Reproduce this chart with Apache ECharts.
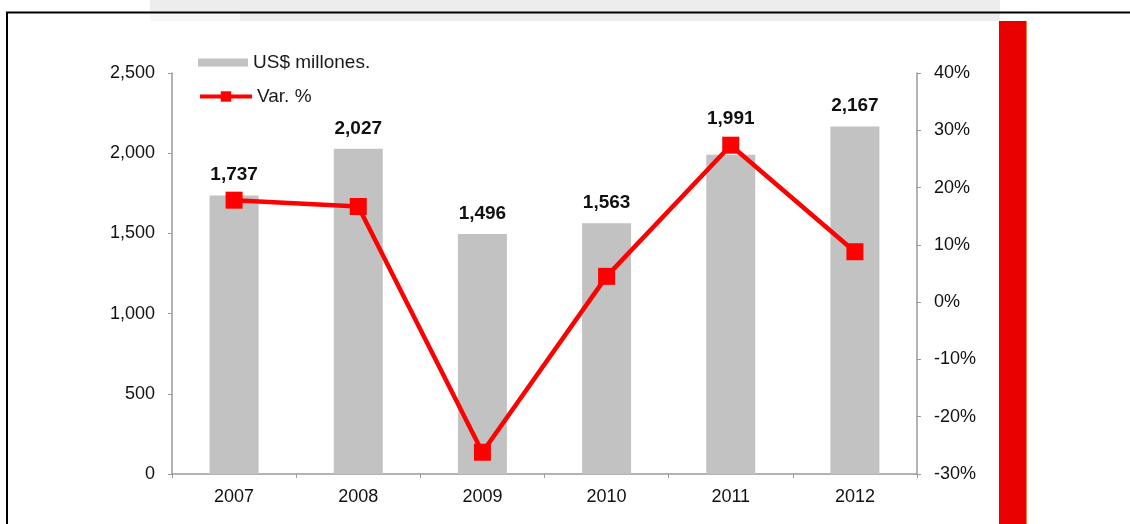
<!DOCTYPE html>
<html>
<head>
<meta charset="utf-8">
<script src="https://cdn.jsdelivr.net/npm/echarts@6/dist/echarts.min.js"></script>
<style>
  html, body { margin: 0; padding: 0; background: #fff; }
  #chart { width: 1130px; height: 524px; }
</style>
</head>
<body>
<div id="chart"></div>
<script>
// Years on the category axis
const years = ['2007', '2008', '2009', '2010', '2011', '2012'];
// Annual amount, US$ millions (bars, left axis)
const amounts = [1737, 2027, 1496, 1563, 1991, 2167];
// Year-on-year change, % (line, right axis)
const changePct = [17.8, 16.7, -26.2, 4.5, 27.4, 8.8];
// Series names shown in the legend
const barName = 'US$ millones.';
const lineName = 'Var. %';

const FONT = '"Liberation Sans", Arial, sans-serif';
const axisGray = '#9a9a9a';

// The 2011 value label sits above the line marker so both stay readable
const barData = amounts.map((v, i) =>
  years[i] === '2011' ? { value: v, label: { distance: 26 } } : v);

const chart = echarts.init(document.getElementById('chart'), null, { renderer: 'canvas' });

chart.setOption({
  backgroundColor: '#ffffff',
  animation: false,
  textStyle: { fontFamily: FONT },
  graphic: [
    // faint band along the top edge
    { type: 'rect', z: 0, shape: { x: 150, y: 0, width: 850, height: 21 }, style: { fill: '#ededed' } },
    { type: 'rect', z: 0, shape: { x: 150, y: 13, width: 90, height: 8 }, style: { fill: '#f7f7f7' } },
    // frame lines on top and left
    { type: 'polyline', z: 10, shape: { points: [[7, 524], [7, 12.5], [1130, 12.5]] },
      style: { stroke: '#000', lineWidth: 2, fill: null } },
    // red vertical band on the right
    { type: 'rect', z: 10, shape: { x: 999, y: 21, width: 27, height: 503 }, style: { fill: '#e80000' } },
    { type: 'rect', z: 10, shape: { x: 1026, y: 21, width: 1, height: 503 }, style: { fill: '#f08050' } }
  ],
  legend: [
    {
      data: [barName],
      left: 193, top: 48,
      itemWidth: 50, itemHeight: 8,
      icon: 'rect',
      textStyle: { fontFamily: FONT, fontSize: 19, color: '#1a1a1a' }
    },
    {
      data: [lineName],
      left: 193, top: 82,
      itemWidth: 52, itemHeight: 13,
      lineStyle: { width: 4 },
      textStyle: { fontFamily: FONT, fontSize: 19, color: '#1a1a1a' }
    }
  ],
  grid: { left: 172, right: 213, top: 73, bottom: 50, containLabel: false },
  xAxis: {
    type: 'category',
    data: years,
    axisLine: { lineStyle: { color: axisGray, width: 1.5 } },
    axisTick: { show: true, length: 4, lineStyle: { color: axisGray } },
    axisLabel: { fontFamily: FONT, fontSize: 18, color: '#111', margin: 14 }
  },
  yAxis: [
    {
      type: 'value', min: 0, max: 2500, interval: 500,
      axisLine: { show: true, lineStyle: { color: axisGray, width: 1.5 } },
      axisTick: { show: true, length: 4, lineStyle: { color: axisGray } },
      splitLine: { show: false },
      axisLabel: {
        fontFamily: FONT, fontSize: 18, color: '#111', margin: 17,
        formatter: v => v.toLocaleString('en-US')
      }
    },
    {
      type: 'value', min: -30, max: 40, interval: 10,
      position: 'right',
      axisLine: { show: true, lineStyle: { color: axisGray, width: 1.5 } },
      axisTick: { show: true, length: 4, lineStyle: { color: axisGray } },
      splitLine: { show: false },
      axisLabel: { fontFamily: FONT, fontSize: 18, color: '#111', margin: 17, formatter: '{value}%' }
    }
  ],
  series: [
    {
      name: barName,
      type: 'bar',
      data: barData,
      barWidth: 49,
      z: 3,
      itemStyle: { color: '#c2c2c2' },
      label: {
        show: true, position: 'top', distance: 11,
        fontFamily: FONT, fontSize: 19, fontWeight: 'bold', color: '#111',
        formatter: p => p.value.toLocaleString('en-US')
      }
    },
    {
      name: lineName,
      type: 'line',
      yAxisIndex: 1,
      data: changePct,
      z: 5,
      symbol: 'rect',
      symbolSize: 17,
      lineStyle: { color: '#ff0000', width: 4.5 },
      itemStyle: { color: '#ff0000' }
    }
  ]
});
</script>
</body>
</html>
